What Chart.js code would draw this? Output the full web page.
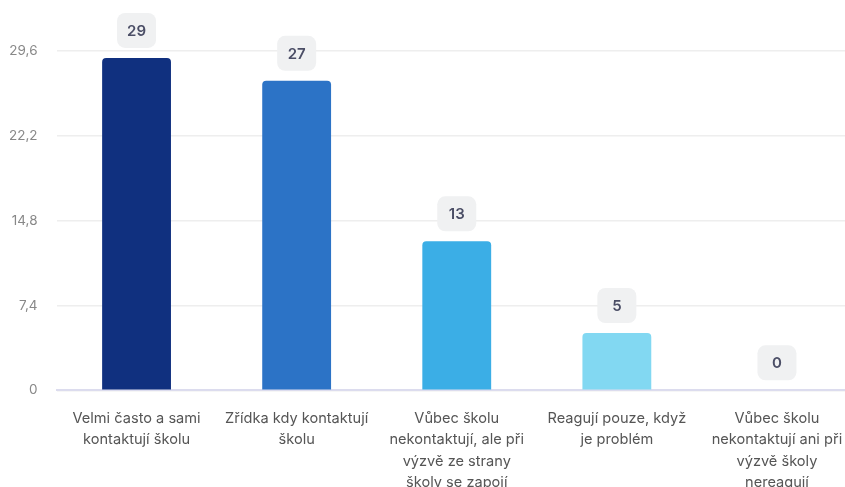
<!DOCTYPE html>
<html>
<head>
<meta charset="utf-8">
<script src="https://cdn.jsdelivr.net/npm/chart.js@4/dist/chart.umd.min.js"></script>
<style>
  html, body { margin: 0; padding: 0; background: #ffffff; overflow: hidden; }
  #wrap { width: 857px; height: 487px; position: relative; }
</style>
</head>
<body>
<div id="wrap"><canvas id="c"></canvas></div>
<script>
const categories = [
  ["Velmi často a sami", "kontaktují školu"],
  ["Zřídka kdy kontaktují", "školu"],
  ["Vůbec školu", "nekontaktují, ale při", "výzvě ze strany", "školy se zapojí"],
  ["Reagují pouze, když", "je problém"],
  ["Vůbec školu", "nekontaktují ani při", "výzvě školy", "nereagují"]
];
const values = [29, 27, 13, 5, 0];
const barColors = ["#10307f", "#2c73c6", "#3baee6", "#82d8f2", "#c9eef9"];
const tickValues = [0, 7.4, 14.8, 22.2, 29.6];
const tickLabels = ["0", "7,4", "14,8", "22,2", "29,6"];

const FONT = "Inter, 'Noto Sans', sans-serif";

const badgePlugin = {
  id: 'badges',
  afterDatasetsDraw(chart) {
    const ctx = chart.ctx;
    const meta = chart.getDatasetMeta(0);
    ctx.save();
    meta.data.forEach((bar, i) => {
      const w = 39, h = 35, r = 8, gap = 10;
      const x = bar.x - w / 2;
      const y = bar.y - gap - h;
      ctx.beginPath();
      ctx.roundRect(x, y, w, h, r);
      ctx.fillStyle = "#f0f1f2";
      ctx.fill();
      ctx.fillStyle = "#4b4e66";
      ctx.font = "600 15px " + FONT;
      ctx.textAlign = "center";
      ctx.textBaseline = "middle";
      ctx.fillText(String(values[i]), bar.x, y + h / 2 + 1);
    });
    ctx.restore();
  }
};

new Chart(document.getElementById('c'), {
  type: 'bar',
  data: {
    labels: categories,
    datasets: [{
      data: values,
      backgroundColor: barColors,
      borderRadius: 4,
      borderSkipped: 'bottom',
      barPercentage: 0.86,
      categoryPercentage: 0.5
    }]
  },
  options: {
    responsive: true,
    maintainAspectRatio: false,
    animation: false,
    layout: { padding: { top: 51, left: 10, right: 0, bottom: -24 } },
    plugins: {
      legend: { display: false },
      tooltip: { enabled: false }
    },
    scales: {
      x: {
        grid: { display: false, drawTicks: false },
        border: { display: true, color: "#dcdcee", width: 2 },
        afterFit(axis) { axis.paddingLeft = 0; axis.paddingRight = 0; },
        ticks: {
          color: "#555555",
          font: { family: FONT, size: 14.6, lineHeight: 1.45 },
          padding: 18,
          maxRotation: 0,
          autoSkip: false
        }
      },
      y: {
        min: 0,
        max: 29.6,
        afterBuildTicks(axis) { axis.ticks = tickValues.map(v => ({ value: v })); },
        afterFit(axis) { axis.width = 46.5; },
        grid: { color: "#eeeeee", drawTicks: false, lineWidth: 1.5 },
        border: { display: false },
        ticks: {
          color: "#888888",
          font: { family: FONT, size: 13.5 },
          padding: 19,
          callback(v) {
            const i = tickValues.findIndex(t => Math.abs(t - v) < 1e-6);
            return i >= 0 ? tickLabels[i] : "";
          }
        }
      }
    }
  },
  plugins: [badgePlugin]
});
</script>
</body>
</html>
